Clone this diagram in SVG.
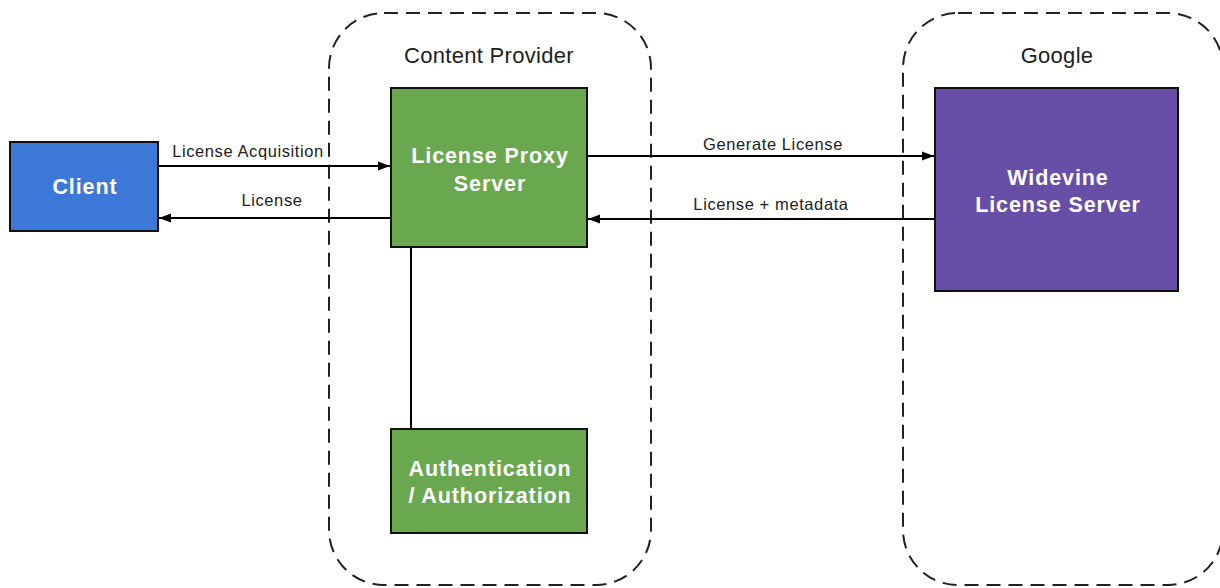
<svg xmlns="http://www.w3.org/2000/svg" width="1220" height="588" viewBox="0 0 1220 588">
<defs>
<marker id="arr" viewBox="0 0 12 10" refX="12" refY="5" markerWidth="12" markerHeight="10" markerUnits="userSpaceOnUse" orient="auto">
<path d="M0,0.5 L12,5 L0,9.5 z" fill="#000"/>
</marker>
</defs>
<style>
.zone{fill:none;stroke:#222;stroke-width:2;stroke-dasharray:14 8}
.ztitle{font-family:"Liberation Sans",Arial,sans-serif;font-size:22px;letter-spacing:0.3px;fill:#222;text-anchor:middle}
.node{stroke:#111;stroke-width:2}
.ntext{font-family:"Liberation Sans",Arial,sans-serif;font-size:21.5px;letter-spacing:0.9px;font-weight:bold;fill:#fff;text-anchor:middle}
.conn{stroke:#000;stroke-width:2;fill:none}
.lbl{font-family:"Liberation Sans",Arial,sans-serif;font-size:16.5px;letter-spacing:0.6px;fill:#222;text-anchor:middle}
</style>
<rect width="1220" height="588" fill="#fff"/>
<g id="zone-content-provider">
<rect class="zone" x="329" y="13" width="322" height="572" rx="55" ry="55"/>
<text class="ztitle" x="489" y="63">Content Provider</text>
</g>
<g id="zone-google">
<rect class="zone" x="903" y="13" width="320" height="572" rx="55" ry="55"/>
<text class="ztitle" x="1057" y="63">Google</text>
</g>
<g id="connectors">
<line class="conn" x1="159" y1="166" x2="390" y2="166" marker-end="url(#arr)"/>
<text class="lbl" x="248" y="157">License Acquisition</text>
<line class="conn" x1="391" y1="218" x2="159" y2="218" marker-end="url(#arr)"/>
<text class="lbl" x="272" y="206">License</text>
<line class="conn" x1="587" y1="156" x2="934" y2="156" marker-end="url(#arr)"/>
<text class="lbl" x="773" y="150">Generate License</text>
<line class="conn" x1="935" y1="219" x2="588" y2="219" marker-end="url(#arr)"/>
<text class="lbl" x="771" y="210">License + metadata</text>
<line class="conn" x1="411" y1="247" x2="411" y2="429"/>
</g>
<g id="client">
<rect class="node" x="10" y="142" width="148" height="89" fill="#3c78d8"/>
<text class="ntext" x="85" y="194">Client</text>
</g>
<g id="license-proxy-server">
<rect class="node" x="391" y="88" width="196" height="159" fill="#6aa84f"/>
<text class="ntext" x="490" y="163">License Proxy</text>
<text class="ntext" x="490" y="191">Server</text>
</g>
<g id="widevine-license-server">
<rect class="node" x="935" y="88" width="243" height="203" fill="#674ea7"/>
<text class="ntext" x="1058" y="185">Widevine</text>
<text class="ntext" x="1058" y="212">License Server</text>
</g>
<g id="auth">
<rect class="node" x="391" y="429" width="196" height="104" fill="#6aa84f"/>
<text class="ntext" x="490" y="476">Authentication</text>
<text class="ntext" x="490" y="503">/ Authorization</text>
</g>
</svg>
